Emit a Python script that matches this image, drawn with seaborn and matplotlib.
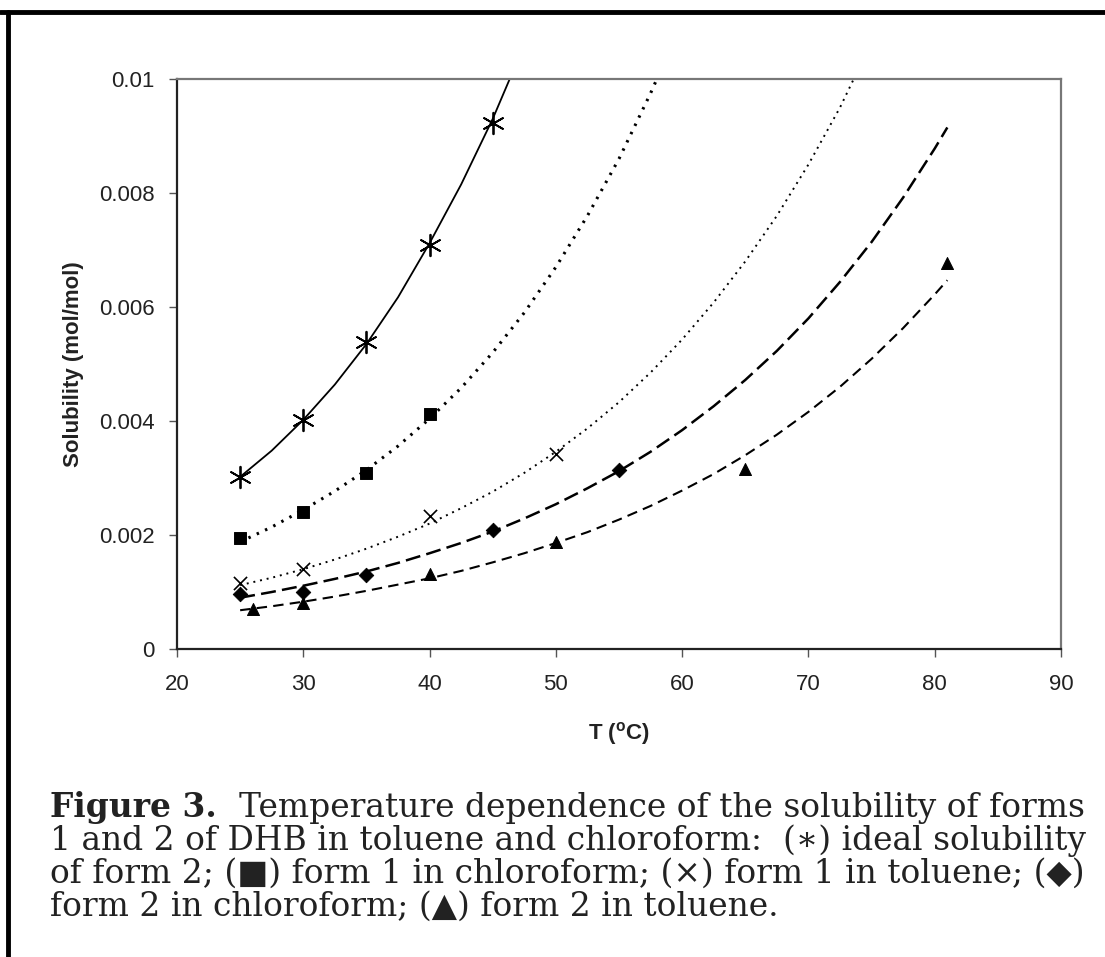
import matplotlib
matplotlib.use("Agg")
import matplotlib.pyplot as plt
from matplotlib.lines import Line2D
import seaborn as sns
import pandas as pd

# measured points (T in degC, solubility mol/mol)
t_ideal = [25, 30, 35, 40, 45]
s_ideal = [0.00301, 0.00402, 0.00539, 0.00708, 0.00923]
t_f1_chl = [25, 30, 35, 40]
s_f1_chl = [0.00194, 0.00240, 0.00308, 0.00412]
t_f1_tol = [25, 30, 40, 50]
s_f1_tol = [0.00115, 0.00141, 0.00233, 0.00342]
t_f2_chl = [25, 30, 35, 45, 55]
s_f2_chl = [0.00097, 0.00100, 0.00130, 0.00208, 0.00314]
t_f2_tol = [26, 30, 40, 50, 65, 81]
s_f2_tol = [0.00070, 0.00081, 0.00132, 0.00187, 0.00316, 0.00678]

# trend curves (every 2.5 degC)
ct_ideal = [25, 27.5, 30, 32.5, 35, 37.5, 40, 42.5, 45, 47.5]
cs_ideal = [0.00302, 0.00348, 0.00402, 0.00464, 0.00535, 0.00617, 0.00712, 0.00815, 0.00930, 0.01060]
ct_f1_chl = [25, 27.5, 30, 32.5, 35, 37.5, 40, 42.5, 45, 47.5, 50, 52.5, 55, 57.5, 60]
cs_f1_chl = [0.00188, 0.00214, 0.00244, 0.00277, 0.00314, 0.00356, 0.00404, 0.00458, 0.00520,
             0.00590, 0.00670, 0.00760, 0.00860, 0.00975, 0.01100]
ct_f1_tol = [25, 27.5, 30, 32.5, 35, 37.5, 40, 42.5, 45, 47.5, 50, 52.5, 55, 57.5, 60, 62.5,
             65, 67.5, 70, 72.5, 75]
cs_f1_tol = [0.00112, 0.00125, 0.00140, 0.00157, 0.00176, 0.00197, 0.00220, 0.00247, 0.00276,
             0.00309, 0.00346, 0.00387, 0.00433, 0.00485, 0.00543, 0.00608, 0.00680, 0.00760,
             0.00850, 0.00950, 0.01065]
ct_f2_chl = [25, 27.5, 30, 32.5, 35, 37.5, 40, 42.5, 45, 47.5, 50, 52.5, 55, 57.5, 60, 62.5,
             65, 67.5, 70, 72.5, 75, 77.5, 80, 81]
cs_f2_chl = [0.00090, 0.00100, 0.00111, 0.00123, 0.00136, 0.00151, 0.00168, 0.00186, 0.00206,
             0.00229, 0.00254, 0.00282, 0.00312, 0.00346, 0.00384, 0.00426, 0.00472, 0.00523,
             0.00580, 0.00644, 0.00714, 0.00792, 0.00878, 0.00915]
ct_f2_tol = [25, 27.5, 30, 32.5, 35, 37.5, 40, 42.5, 45, 47.5, 50, 52.5, 55, 57.5, 60, 62.5,
             65, 67.5, 70, 72.5, 75, 77.5, 80, 81]
cs_f2_tol = [0.00068, 0.00075, 0.00083, 0.00092, 0.00102, 0.00113, 0.00124, 0.00137, 0.00152,
             0.00168, 0.00186, 0.00205, 0.00227, 0.00251, 0.00278, 0.00307, 0.00340, 0.00376,
             0.00416, 0.00460, 0.00509, 0.00563, 0.00622, 0.00647]

x_ticks = [20, 30, 40, 50, 60, 70, 80, 90]
y_ticks = [0, 0.002, 0.004, 0.006, 0.008, 0.01]
y_tick_labels = ["0", "0.002", "0.004", "0.006", "0.008", "0.01"]

caption_head = "Figure 3."
caption_first = "Temperature dependence of the solubility of forms"
caption_lines = [
    "1 and 2 of DHB in toluene and chloroform:  (\u2217) ideal solubility",
    "of form 2; (\u25a0) form 1 in chloroform; (\u00d7) form 1 in toluene; (\u25c6)",
    "form 2 in chloroform; (\u25b2) form 2 in toluene.",
]

sns.set_style("white")
plt.rcParams['font.family'] = ['Liberation Sans', 'DejaVu Sans']

W, H = 1105, 957
fig = plt.figure(figsize=(W / 100, H / 100), dpi=100)
ax = fig.add_axes([177 / W, 1 - 649 / H, (1061 - 177) / W, (649 - 79) / H])

series = [
    (ct_ideal, cs_ideal, t_ideal, s_ideal, dict(ls='-', lw=1.3), dict(marker=(6, 2, 0), s=240, linewidths=1.3)),
    (ct_f1_chl, cs_f1_chl, t_f1_chl, s_f1_chl, dict(ls=(0, (0.8, 2.2)), lw=2.2), dict(marker='s', s=70)),
    (ct_f1_tol, cs_f1_tol, t_f1_tol, s_f1_tol, dict(ls=(0, (1, 2.5)), lw=1.4), dict(marker='x', s=90, linewidths=1.2)),
    (ct_f2_chl, cs_f2_chl, t_f2_chl, s_f2_chl, dict(ls=(0, (6, 2.5)), lw=1.8), dict(marker='D', s=55)),
    (ct_f2_tol, cs_f2_tol, t_f2_tol, s_f2_tol, dict(ls=(0, (5, 3)), lw=1.5), dict(marker='^', s=75)),
]

for ct, cs, t, s, lkw, mkw in series:
    cdf = pd.DataFrame({'T': ct, 'S': cs})
    pdf = pd.DataFrame({'T': t, 'S': s})
    sns.lineplot(data=cdf, x='T', y='S', color='black', ax=ax, **lkw)
    sns.scatterplot(data=pdf, x='T', y='S', color='black', edgecolor='black', ax=ax, zorder=3, **mkw)

ax.set_xlim(20, 90)
ax.set_ylim(0, 0.01)
ax.set_xticks(x_ticks)
ax.set_yticks(y_ticks)
ax.set_yticklabels(y_tick_labels)
ax.tick_params(axis='both', labelsize=16, direction='out', length=6, width=1, color='#555555',
               labelcolor='#222222', left=True, bottom=True, pad=10)
ax.tick_params(axis='x', pad=12)

ax.set_xlabel("T ($^{\\mathregular{o}}$C)", fontsize=16, fontweight='bold', labelpad=18, color='#222222')
ax.set_ylabel("Solubility (mol/mol)", fontsize=16, fontweight='bold', labelpad=11, color='#222222')

for side in ['left', 'bottom']:
    ax.spines[side].set_color('#222222')
    ax.spines[side].set_linewidth(1.6)
for side in ['top', 'right']:
    ax.spines[side].set_color('#777777')
    ax.spines[side].set_linewidth(1.6)

# page border (top and left)
fig.add_artist(Line2D([0, 1], [1 - 12 / H, 1 - 12 / H], transform=fig.transFigure, color='black', lw=3.5))
fig.add_artist(Line2D([8 / W, 8 / W], [0, 1 - 12 / H], transform=fig.transFigure, color='black', lw=3.5))

# caption: fit the font so the full lines span x = 50..1085 px
serif = ['DejaVu Serif', 'DejaVu Sans']
x_left, x_right = 50, 1085
probe = fig.text(0, 0, caption_lines[0], fontsize=20, family=serif)
fig.canvas.draw()
w20 = probe.get_window_extent().width
probe.remove()
cap_size = 20 * (x_right - x_left) / w20

fig.text(x_left / W, 1 - 817 / H, caption_head, fontsize=cap_size, fontweight='bold',
         family=serif, va='baseline', color='#222222')
fig.text(x_right / W, 1 - 817 / H, caption_first, fontsize=cap_size, family=serif,
         va='baseline', ha='right', color='#222222')
for i, line in enumerate(caption_lines):
    fig.text(x_left / W, 1 - (850 + 33 * i) / H, line, fontsize=cap_size, family=serif,
             va='baseline', color='#222222')

fig.savefig("out.png", dpi=100)
